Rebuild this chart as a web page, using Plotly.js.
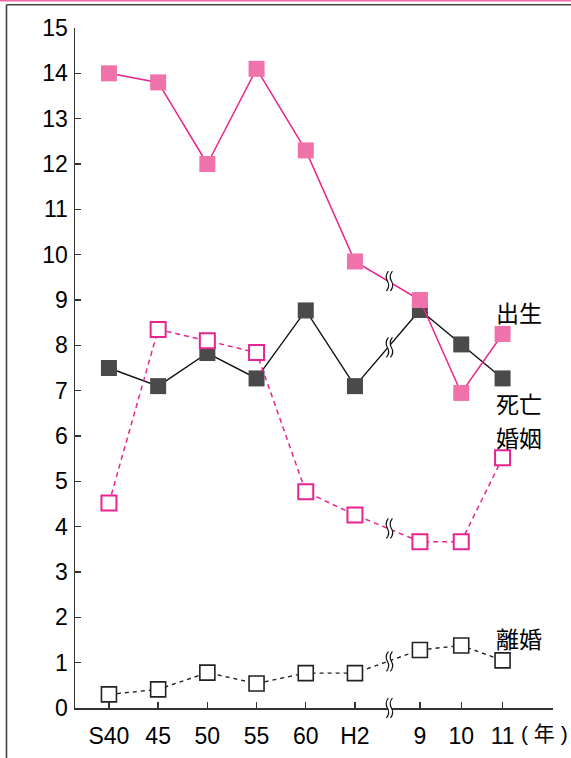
<!DOCTYPE html>
<html>
<head>
<meta charset="utf-8">
<script src="https://cdn.plot.ly/plotly-3.0.1.min.js"></script>
<style>
html,body{margin:0;padding:0;background:#fff;}
#chart{width:571px;height:758px;}
</style>
</head>
<body>
<div id="chart"></div>
<script>
// ---- data ----
const years = ["S40", "45", "50", "55", "60", "H2", "9", "10", "11"];
const birth    = [14.0, 13.8, 12.0, 14.1, 12.3, 9.85, 9.0, 6.95, 8.25];   // 出生
const death    = [7.5, 7.1, 7.83, 7.27, 8.77, 7.1, 8.78, 8.02, 7.27];     // 死亡
const marriage = [4.52, 8.35, 8.1, 7.84, 4.77, 4.26, 3.67, 3.67, 5.52];   // 婚姻
const divorce  = [0.3, 0.41, 0.78, 0.54, 0.77, 0.77, 1.28, 1.38, 1.05];   // 離婚
const seriesLabels = ["出生", "死亡", "婚姻", "離婚"];
const unitLabel = "(\u00a0年\u00a0)";

// ---- layout helpers (broken axis: 5-year steps, then annual steps) ----
const slot = years.map((_, i) => i < 6 ? i : 6.32 + (i - 6) * 0.84);
const breakX = 5.67;
const PL = 75, PR = 553, PT = 28.3, PB = 708;
const px2paperX = p => (p - PL) / (PR - PL);
const px2paperY = p => (PB - p) / (PB - PT);

const pinkLine = "#E9238F", pinkFill = "#F072AB", dark = "#4A4A4A";

const traces = [
  {x: slot, y: divorce, mode: "lines+markers", name: seriesLabels[3],
   line: {color: "#222", width: 1.4, dash: "4px,4px"},
   marker: {symbol: "square", size: 15, color: "#fff", line: {color: "#222", width: 1.6}}},
  {x: slot, y: death, mode: "lines+markers", name: seriesLabels[1],
   line: {color: "#111", width: 1.4},
   marker: {symbol: "square", size: 16, color: dark, line: {width: 0}}},
  {x: slot, y: birth, mode: "lines+markers", name: seriesLabels[0],
   line: {color: pinkLine, width: 1.5},
   marker: {symbol: "square", size: 16, color: pinkFill, line: {width: 0}}},
  {x: slot, y: marriage, mode: "lines+markers", name: seriesLabels[2],
   line: {color: pinkLine, width: 1.5, dash: "5px,4px"},
   marker: {symbol: "square", size: 15, color: "#fff", line: {color: pinkLine, width: 2}}}
];

function interpAtBreak(arr) {
  return arr[5] + (arr[6] - arr[5]) * (breakX - slot[5]) / (slot[6] - slot[5]);
}

function breakShapes(yVal, yref) {
  const L = "M 0.5,10 Q -3.5,5 -0.5,0 Q 2.5,-5 -1.5,-10";
  const R = "M 4.5,10 Q 0.5,5 3.5,0 Q 6.5,-5 2.5,-10";
  const fill = L + " L 2.5,-10 Q 6.5,-5 3.5,0 Q 0.5,5 4.5,10 Z";
  const base = {type: "path", xref: "x", yref: yref, xsizemode: "pixel", ysizemode: "pixel",
                xanchor: breakX, yanchor: yVal, layer: "above"};
  return [
    Object.assign({}, base, {path: fill, fillcolor: "#fff", line: {width: 0}}),
    Object.assign({}, base, {path: L, fillcolor: "rgba(0,0,0,0)", line: {color: "#111", width: 1.2}}),
    Object.assign({}, base, {path: R, fillcolor: "rgba(0,0,0,0)", line: {color: "#111", width: 1.2}})
  ];
}

let shapes = [];
[birth, death, marriage, divorce].forEach(s => { shapes = shapes.concat(breakShapes(interpAtBreak(s), "y")); });
shapes = shapes.concat(breakShapes(0, "paper"));

// frame
shapes.push({type: "line", xref: "paper", yref: "paper", x0: px2paperX(0), x1: px2paperX(571),
             y0: px2paperY(0.8), y1: px2paperY(0.8), line: {color: "#F06AAE", width: 2}});
shapes.push({type: "line", xref: "paper", yref: "paper", x0: px2paperX(6.5), x1: px2paperX(571),
             y0: px2paperY(5), y1: px2paperY(5), line: {color: "#444", width: 1.6}});
shapes.push({type: "line", xref: "paper", yref: "paper", x0: px2paperX(6.5), x1: px2paperX(6.5),
             y0: px2paperY(5), y1: px2paperY(760), line: {color: "#444", width: 1.6}});

const labelFont = {family: "Noto Sans CJK JP", size: 23, color: "#000"};
const labelPos = [[494, 312], [494, 403], [494, 437], [494, 638]];
const annotations = seriesLabels.map((t, i) => ({
  text: t, xref: "paper", yref: "paper", x: px2paperX(labelPos[i][0]), y: px2paperY(labelPos[i][1]),
  xanchor: "left", yanchor: "middle", showarrow: false, font: labelFont
}));
annotations.push({text: unitLabel, xref: "paper", yref: "paper", x: px2paperX(569), y: px2paperY(733),
  xanchor: "right", yanchor: "middle", showarrow: false, borderpad: 0,
  font: {family: "Liberation Sans, Noto Sans CJK JP, sans-serif", size: 21, color: "#000"}});

const tickFont = {family: "Liberation Sans, Arial, sans-serif", size: 23, color: "#000"};

const layout = {
  width: 571, height: 758,
  margin: {l: PL, r: 571 - PR, t: PT, b: 758 - PB, pad: 0},
  paper_bgcolor: "#fff", plot_bgcolor: "#fff",
  showlegend: false,
  xaxis: {range: [-0.69, 9.025], tickmode: "array", tickvals: slot, ticktext: years,
          ticks: "inside", ticklen: 6, tickwidth: 1.4, tickcolor: "#333",
          showline: true, linecolor: "#333", linewidth: 1.5, showgrid: false, zeroline: false,
          tickfont: tickFont, ticklabelstandoff: 7, fixedrange: true},
  yaxis: {range: [0, 15], tickmode: "linear", tick0: 0, dtick: 1,
          ticks: "inside", ticklen: 6, tickwidth: 1.4, tickcolor: "#333",
          showline: true, linecolor: "#333", linewidth: 1.5, showgrid: false, zeroline: false,
          tickfont: tickFont, ticklabelstandoff: 1, fixedrange: true},
  shapes: shapes,
  annotations: annotations
};

Plotly.newPlot("chart", traces, layout, {staticPlot: true, displayModeBar: false});
</script>
</body>
</html>
